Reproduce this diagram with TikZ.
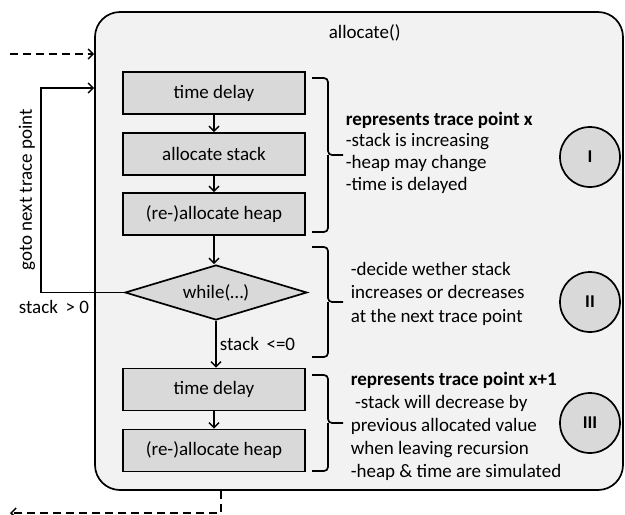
\documentclass[tikz,border=0pt]{standalone}
\usepackage{fontspec}
\setmainfont{Carlito}
\usetikzlibrary{arrows.meta,shapes.geometric}
\begin{document}
\begin{tikzpicture}[x=1pt,y=-1pt,line width=1.7pt,
  tip/.style={-{Straight Barb[length=5pt,width=10pt,line width=1.5pt]}},
  dashline/.style={dash pattern=on 8pt off 5pt},
  stepbox/.style={draw,fill=black!15,minimum width=182pt,minimum height=42pt,inner sep=0pt,font=\fontsize{19}{22}\selectfont},
  cond/.style={draw,diamond,fill=black!15,minimum width=182pt,minimum height=55pt,aspect=3.3,inner sep=0pt,font=\fontsize{19}{22}\selectfont},
  marker/.style={draw,circle,fill=black!15,minimum size=60pt,inner sep=0pt,font=\bfseries\fontsize{18}{20}\selectfont},
  note/.style={anchor=west,align=left,inner sep=0pt},
  lbl/.style={inner sep=0pt,font=\fontsize{19}{22}\selectfont},
  bracket/.style={rounded corners=4pt}]
\useasboundingbox (0,0) rectangle (625,515);
\node[draw,fill=black!5,rounded corners=25pt,minimum width=528pt,minimum height=478pt,inner sep=0pt] (outer) at (359,251) {};
\node[lbl,anchor=west] (title) at (328,33) {allocate()};
\node[stepbox] (b1) at (214,93) {time delay};
\node[stepbox] (b2) at (214,154) {allocate stack};
\node[stepbox] (b3) at (214,214) {(re-)allocate heap};
\node[cond] (d) at (216,292.5) {while(…)};
\node[stepbox] (b4) at (214,389.5) {time delay};
\node[stepbox] (b5) at (214,450.5) {(re-)allocate heap};
\draw[tip] (b1) -- (b2);
\draw[tip] (b2) -- (b3);
\draw[tip] (b3.south) -- (b3.south |- d.north);
\draw[tip] (d.south) -- (d.south |- b4.north) node[lbl,midway,anchor=west,xshift=3pt] (lle) {stack\hspace{0.4em}<=0};
\draw[tip] (b4) -- (b5);
% loop back
\coordinate (lp) at (41,88);
\draw[tip] (d.west) -| (lp) -- (lp -| outer.west);
\node[lbl,rotate=90] (goto) at (27,190) {goto next trace point};
\node[lbl,anchor=west] (lgt) at (18,307) {stack\hspace{0.4em}> 0};
% dashed in/out
\coordinate (din) at (10,54);
\draw[tip,dashline] (din) -- (din -| outer.west);
\coordinate (dturn) at (221,513);
\coordinate (dout) at (10,513);
\draw[tip,dashline] (dturn |- outer.south) -- (dturn) -- (dout);
% brackets
\draw[bracket] (312,78) -- (328,78) -- (328,155) -- (343,155);
\draw[bracket] (328,155) -- (328,232) -- (312,232);
\draw[bracket] (312,247) -- (328,247) -- (328,302) -- (343,302);
\draw[bracket] (328,302) -- (328,357) -- (312,357);
\draw[bracket] (312,375) -- (328,375) -- (328,423) -- (343,423);
\draw[bracket] (328,423) -- (328,471) -- (312,471);
% notes
\node[note,font=\fontsize{19}{21.7}\selectfont] (n1) at (345,152.5) {\textbf{represents trace point x}\\-stack is increasing\\-heap may change\\-time is delayed};
\node[note,font=\fontsize{19}{23.5}\selectfont] (n2) at (350,293.5) {-decide wether stack\\increases or decreases\\at the next trace point};
\node[note,font=\fontsize{19}{23}\selectfont] (n3) at (350,426) {\textbf{represents trace point x+1}\\\ -stack will decrease by\\previous allocated value\\when leaving recursion\\-heap \& time are simulated};
\node[marker] (m1) at (590,157) {I};
\node[marker] (m2) at (590,302) {II};
\node[marker] (m3) at (590,423) {III};
\end{tikzpicture}
\end{document}
